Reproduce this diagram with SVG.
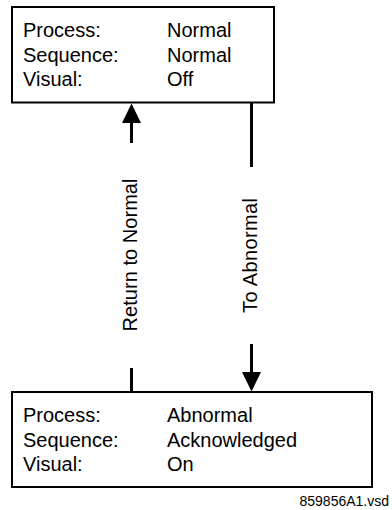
<svg xmlns="http://www.w3.org/2000/svg" width="392" height="510" viewBox="0 0 392 510">
<style>
.box{fill:#fff;stroke:#000;stroke-width:2}
.t{font-family:"Liberation Sans",Arial,sans-serif;font-size:20px;fill:#000}
.ln{stroke:#000;stroke-width:3;fill:none}
.ft{font-family:"Liberation Sans",Arial,sans-serif;font-size:14px;fill:#000}
</style>
<rect width="392" height="510" fill="#fff"/>
<g id="state-normal">
<rect class="box" x="12" y="7" width="262" height="95.5"/>
<text class="t" x="23" y="37">Process:</text>
<text class="t" x="167" y="37">Normal</text>
<text class="t" x="23" y="61.5">Sequence:</text>
<text class="t" x="167" y="61.5">Normal</text>
<text class="t" x="23" y="86">Visual:</text>
<text class="t" x="167" y="86">Off</text>
</g>
<g id="state-abnormal">
<rect class="box" x="12" y="392" width="360" height="95"/>
<text class="t" x="23" y="422">Process:</text>
<text class="t" x="167" y="422">Abnormal</text>
<text class="t" x="23" y="446.5">Sequence:</text>
<text class="t" x="167" y="446.5">Acknowledged</text>
<text class="t" x="23" y="471">Visual:</text>
<text class="t" x="167" y="471">On</text>
</g>
<g id="connectors">
<line class="ln" x1="131.5" y1="392" x2="131.5" y2="368"/>
<line class="ln" x1="131.5" y1="143" x2="131.5" y2="120"/>
<polygon points="131.5,103.5 141,123 122,123" fill="#000"/>
<text class="t" transform="translate(136.5,255) rotate(-90)" text-anchor="middle" textLength="153">Return to Normal</text>
<line class="ln" x1="251.5" y1="103" x2="251.5" y2="167"/>
<line class="ln" x1="251.5" y1="344" x2="251.5" y2="375"/>
<polygon points="251.5,391.5 261,372 242,372" fill="#000"/>
<text class="t" transform="translate(256.5,255.5) rotate(-90)" text-anchor="middle" textLength="115">To Abnormal</text>
</g>
<text class="ft" x="299.5" y="506">859856A1.vsd</text>
</svg>
